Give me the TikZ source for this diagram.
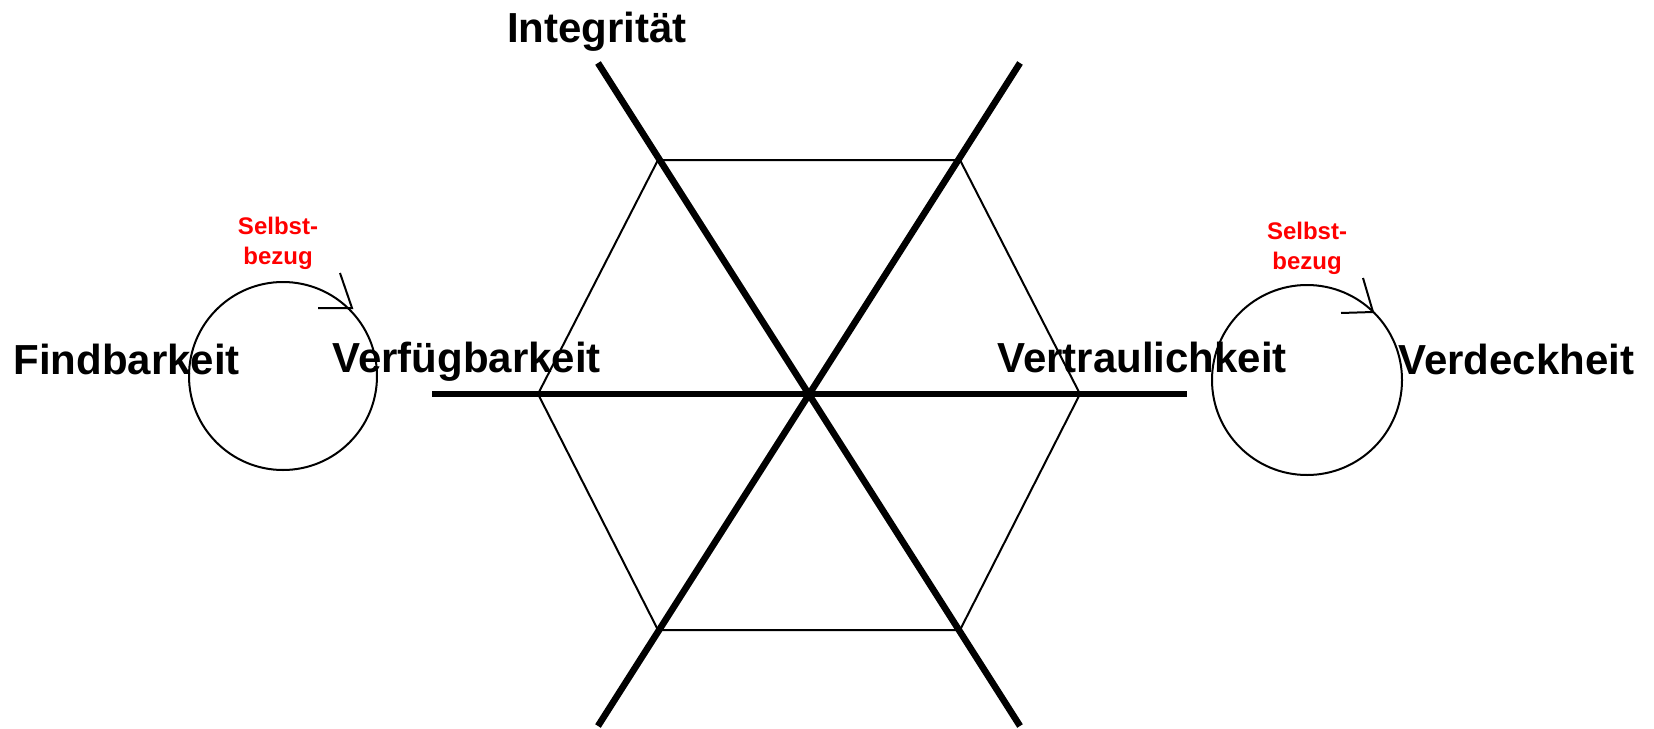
\documentclass[tikz,border=0pt]{standalone}
\usepackage{fontspec}
\setmainfont{Liberation Sans}
\usepackage{xcolor}
\usetikzlibrary{calc, positioning}

\tikzset{
    axis line/.style={line width=3.3pt},
    hex line/.style={line width=1pt},
    ring/.style={line width=1pt},
    big label/.style={font=\fontsize{21}{25}\selectfont\bfseries, inner sep=0pt},
    self label/.style={font=\fontsize{12}{15}\selectfont\bfseries, text=red, align=center, inner sep=0pt}
}

\begin{document}
\begin{tikzpicture}[x=0.5pt, y=-0.5pt]
    \useasboundingbox (0,0) rectangle (1654,728);

    % 1. Mittelpunkt und Ecken des Sechsecks
    \coordinate (C) at (810,394);
    \coordinate (hL) at (538,394);
    \coordinate (hR) at (1080,394);
    \coordinate (hTL) at (658,160);
    \coordinate (hTR) at (960,160);
    \coordinate (hBL) at (658,630);
    \coordinate (hBR) at (960,630);

    % 2. Sechseck (duenn)
    \draw[hex line, line join=miter] (hL) -- (hTL) -- (hTR) -- (hR) -- (hBR) -- (hBL) -- cycle;

    % 3. Die drei dicken Achsen
    \coordinate (aL) at (432,394);
    \coordinate (aR) at (1187,394);
    \coordinate (aTL) at (598,63);
    \coordinate (aTR) at (1020,63);
    \coordinate (aBL) at (598,726);
    \coordinate (aBR) at (1020,726);
    \draw[axis line] (aL) -- (aR);
    \draw[axis line] (aTL) -- (aBR);
    \draw[axis line] (aTR) -- (aBL);

    % 4. Kreise mit Pfeilspitze (Selbstbezug)
    \coordinate (ringL) at (283,376);
    \coordinate (ringR) at (1307,380);
    \draw[ring] (ringL) circle[radius=94];
    \draw[ring] (ringR) circle[radius=95];
    \coordinate (tipL) at (352,308);
    \coordinate (tipR) at (1373,312);
    \draw[ring] (340,273) -- (tipL) -- (318,308);
    \draw[ring] (1363,278) -- (tipR) -- (1341,313);

    % 5. Beschriftungen
    \node[big label, anchor=base] (integ) at (597,42) {Integrität};
    \node[big label, anchor=base west] (find) at (13,374) {Findbarkeit};
    \node[big label, anchor=base west] (verf) at (332,372) {Verfügbarkeit};
    \node[big label, anchor=base west] (vertr) at (997,372) {Vertraulichkeit};
    \node[big label, anchor=base west] (verd) at (1398,374) {Verdeckheit};
    \node[self label] (selfL) at (278,243) {Selbst-\\bezug};
    \node[self label] (selfR) at (1307,248) {Selbst-\\bezug};
\end{tikzpicture}
\end{document}
